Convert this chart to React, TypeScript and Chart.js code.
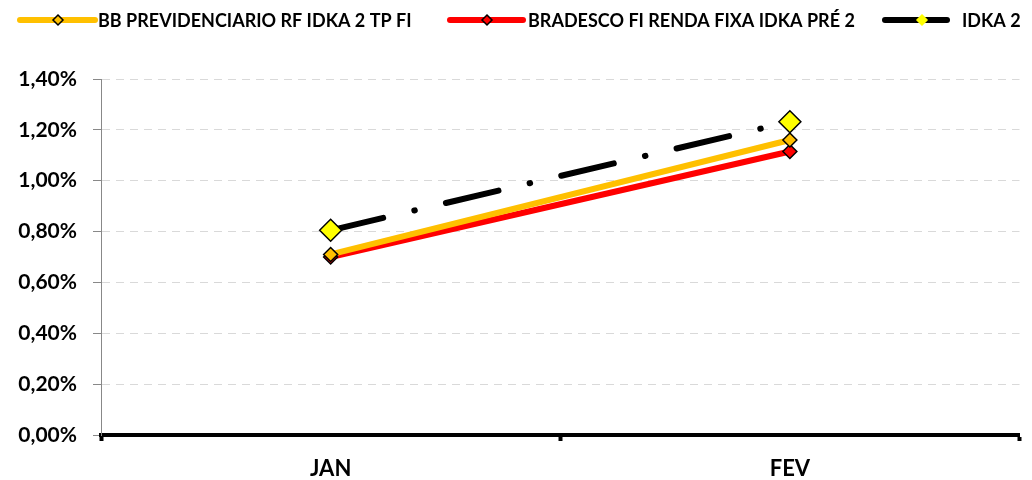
import React, { useEffect, useRef } from "react";
import { Chart, registerables } from "chart.js";

Chart.register(...registerables);

const categories = ["JAN", "FEV"];
const bbValues = [0.71, 1.16];
const bradescoValues = [0.7, 1.115];
const idkaValues = [0.805, 1.232];
const seriesNames = [
  "BB PREVIDENCIARIO RF IDKA 2 TP FI",
  "BRADESCO FI RENDA FIXA IDKA PRÉ 2",
  "IDKA 2",
];
const yMin = 0;
const yMax = 1.4;
const yStep = 0.2;

const FONT = "Lato";

const legendPlugin = {
  id: "customLegend",
  afterDraw(chart: any) {
    const ctx = chart.ctx;
    const items = [
      { x1: 20, x2: 95, mx: 58, tx: 98, color: "#FFC000", mfill: "#FFC000" },
      { x1: 450, x2: 523, mx: 487, tx: 528, color: "#FF0000", mfill: "#FF0000" },
      { x1: 885, x2: 947, mx: 922, tx: 962, color: "#000000", mfill: "#FFFF00" },
    ];
    const y = 20;
    ctx.save();
    items.forEach((it, i) => {
      ctx.beginPath();
      ctx.lineCap = "round";
      ctx.lineWidth = 6;
      ctx.strokeStyle = it.color;
      ctx.moveTo(it.x1, y);
      ctx.lineTo(it.x2, y);
      ctx.stroke();
      const r = 5;
      ctx.beginPath();
      ctx.moveTo(it.mx, y - r);
      ctx.lineTo(it.mx + r, y);
      ctx.lineTo(it.mx, y + r);
      ctx.lineTo(it.mx - r, y);
      ctx.closePath();
      ctx.fillStyle = it.mfill;
      ctx.fill();
      ctx.lineWidth = 1.5;
      ctx.strokeStyle = i === 2 ? it.mfill : "#000";
      ctx.stroke();
      ctx.fillStyle = "#000";
      ctx.font = `bold 18px ${FONT}`;
      ctx.textBaseline = "middle";
      ctx.textAlign = "left";
      ctx.fillText(seriesNames[i], it.tx, y + 1);
    });
    ctx.restore();
  },
};

export default function App() {
  const ref = useRef<HTMLCanvasElement>(null);
  useEffect(() => {
    if (!ref.current) return;
    const chart = new Chart(ref.current, {
      type: "line",
      data: {
        labels: categories,
        datasets: [
          {
            label: seriesNames[0],
            data: bbValues,
            borderColor: "#FFC000",
            backgroundColor: "#FFC000",
            borderWidth: 6,
            pointStyle: "rectRot",
            pointRadius: 7,
            pointBackgroundColor: "#FFC000",
            pointBorderColor: "#000",
            pointBorderWidth: 1.5,
            order: 2,
          },
          {
            label: seriesNames[1],
            data: bradescoValues,
            borderColor: "#FF0000",
            backgroundColor: "#FF0000",
            borderWidth: 6,
            pointStyle: "rectRot",
            pointRadius: 7,
            pointBackgroundColor: "#FF0000",
            pointBorderColor: "#000",
            pointBorderWidth: 1.5,
            order: 3,
          },
          {
            label: seriesNames[2],
            data: idkaValues,
            borderColor: "#000000",
            backgroundColor: "#FFFF00",
            borderWidth: 6,
            borderDash: [54, 32, 0.5, 32],
            borderCapStyle: "round",
            pointStyle: "rectRot",
            pointRadius: 11,
            pointBackgroundColor: "#FFFF00",
            pointBorderColor: "#000",
            pointBorderWidth: 1.5,
            order: 1,
          },
        ],
      },
      options: {
        animation: false,
        responsive: false,
        layout: { padding: { top: 79, right: 10, left: 0, bottom: 0 } },
        plugins: { legend: { display: false }, tooltip: { enabled: false } },
        scales: {
          x: {
            type: "category",
            offset: true,
            grid: {
              display: true,
              drawOnChartArea: false,
              drawTicks: true,
              offset: true,
              tickLength: 6,
              tickColor: "#000",
              tickWidth: 4,
            },
            border: { display: true, color: "#000", width: 4 },
            ticks: {
              color: "#000",
              font: { family: FONT, weight: "bold", size: 22 },
              padding: 15,
            },
            afterFit: (s: any) => {
              s.height = 45;
            },
          },
          y: {
            min: yMin,
            max: yMax,
            ticks: {
              stepSize: yStep,
              color: "#000",
              font: { family: FONT, weight: "bold", size: 21 },
              padding: 16,
              callback: (v: any) => Number(v).toFixed(2).replace(".", ",") + "%",
            },
            grid: {
              color: "#D9D9D9",
              lineWidth: 1,
              tickColor: "#888",
              tickLength: 8,
              tickBorderDash: [],
            },
            border: { display: true, color: "#888", width: 1, dash: [8, 6] },
            afterFit: (s: any) => {
              s.width = 101;
            },
          },
        },
      },
      plugins: [legendPlugin],
    } as any);
    return () => chart.destroy();
  }, []);
  return (
    <div style={{ position: "fixed", left: 0, top: 0, width: 1032, height: 480, background: "#fff" }}>
      <canvas ref={ref} width={1032} height={480} style={{ width: 1032, height: 480 }} />
    </div>
  );
}
